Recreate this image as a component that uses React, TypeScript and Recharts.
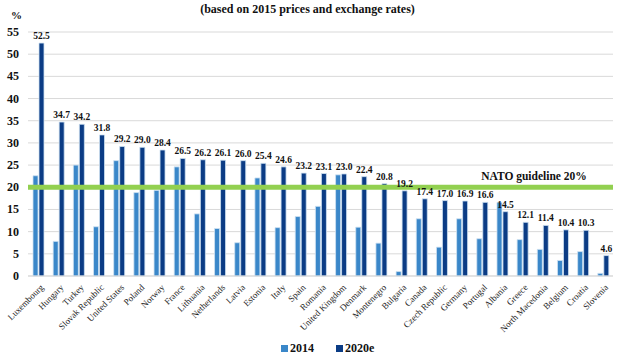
import { BarChart, Bar, XAxis, YAxis, CartesianGrid, ReferenceLine, LabelList, Legend } from 'recharts'

const countries = [
  'Luxembourg', 'Hungary', 'Turkey', 'Slovak Republic', 'United States', 'Poland', 'Norway', 'France',
  'Lithuania', 'Netherlands', 'Latvia', 'Estonia', 'Italy', 'Spain', 'Romania', 'United Kingdom',
  'Denmark', 'Montenegro', 'Bulgaria', 'Canada', 'Czech Republic', 'Germany', 'Portugal', 'Albania',
  'Greece', 'North Macedonia', 'Belgium', 'Croatia', 'Slovenia',
]
const values2014 = [
  22.6, 7.8, 25.0, 11.1, 26.0, 18.8, 19.3, 24.6,
  14.0, 10.7, 7.5, 22.1, 10.9, 13.4, 15.7, 22.8,
  11.0, 7.4, 1.0, 12.9, 6.5, 12.9, 8.4, 16.6,
  8.2, 6.0, 3.5, 5.5, 0.6,
]
const values2020 = [
  52.5, 34.7, 34.2, 31.8, 29.2, 29.0, 28.4, 26.5,
  26.2, 26.1, 26.0, 25.4, 24.6, 23.2, 23.1, 23.0,
  22.4, 20.8, 19.2, 17.4, 17.0, 16.9, 16.6, 14.5,
  12.1, 11.4, 10.4, 10.3, 4.6,
]
const yTicks = [0, 5, 10, 15, 20, 25, 30, 35, 40, 45, 50, 55]
const guideline = 20

const data = countries.map((c, i) => ({ country: c, y2014: values2014[i], y2020: values2020[i] }))

const serif = 'Liberation Serif, DejaVu Serif, serif'
const c2014 = '#3a87c9'
const c2020 = '#0b3c85'

function XTick({ x, y, payload }: { x?: number; y?: number; payload?: { value: string } }) {
  const tx = (x ?? 0) + 6
  const ty = (y ?? 0) + 4
  return (
    <text x={tx} y={ty} transform={`rotate(-45 ${tx} ${ty})`} textAnchor="end" fontSize={9} fontFamily={serif} fill="#222">
      {payload?.value}
    </text>
  )
}

function YTick({ x, y, payload }: { x?: number; y?: number; payload?: { value: number } }) {
  return (
    <text x={(x ?? 0) - 1} y={(y ?? 0) + 4} textAnchor="end" fontSize={12} fontWeight="bold" fontFamily={serif} fill="#111">
      {payload?.value}
    </text>
  )
}

function ValueLabel({ x, y, width, value }: { x?: number; y?: number; width?: number; value?: number }) {
  if (value == null) return null
  return (
    <text x={Number(x) + Number(width) / 2} y={Number(y) - 4} textAnchor="middle" fontSize={9.5} fontWeight="bold" fontFamily={serif} fill="#111">
      {Number(value).toFixed(1)}
    </text>
  )
}

function GuideLabel({ viewBox }: { viewBox?: { x: number; y: number; width: number } }) {
  if (!viewBox) return null
  return (
    <text x={viewBox.x + viewBox.width - 79} y={viewBox.y - 7} textAnchor="middle" fontSize={11.5} fontWeight="bold" fontFamily={serif} fill="#111">
      NATO guideline 20%
    </text>
  )
}

function LegendContent() {
  const item = (color: string, label: string) => (
    <span style={{ display: 'inline-flex', alignItems: 'center', marginRight: 22 }}>
      <span style={{ width: 7, height: 7, background: color, display: 'inline-block', marginRight: 2 }} />
      {label}
    </span>
  )
  return (
    <div style={{ fontFamily: serif, fontWeight: 'bold', fontSize: 12, color: '#111', paddingLeft: 281, paddingTop: 5, textAlign: 'left' }}>
      {item(c2014, '2014')}
      {item(c2020, '2020e')}
    </div>
  )
}

export default function App() {
  return (
    <div style={{ position: 'absolute', left: 0, top: 0, width: 623, height: 362, background: '#fff' }}>
      <div style={{ position: 'absolute', left: 0, width: 623, top: 2, textAlign: 'center', fontFamily: serif, fontWeight: 'bold', fontSize: 12, color: '#111' }}>
        <span style={{ position: 'relative', left: -4 }}>(based on 2015 prices and exchange rates)</span>
      </div>
      <div style={{ position: 'absolute', left: 11, top: 9, fontFamily: serif, fontWeight: 'bold', fontSize: 11, color: '#111' }}>%</div>
      <BarChart
        width={623}
        height={362}
        data={data}
        margin={{ top: 32, right: 10, bottom: 2, left: 0 }}
        barGap={1}
        barSize={5}
      >
        <CartesianGrid vertical={false} stroke="#d9d9d9" />
        <XAxis
          dataKey="country"
          interval={0}
          tickLine={false}
          axisLine={{ stroke: '#d9d9d9' }}
          height={60}
          tick={<XTick />}
        />
        <YAxis
          domain={[0, 55]}
          ticks={yTicks}
          width={28}
          axisLine={false}
          tickLine={false}
          interval={0}
          tick={<YTick />}
        />
        <Legend verticalAlign="bottom" height={24} content={<LegendContent />} />
        <Bar dataKey="y2014" name="2014" fill={c2014} stroke="#cfe2f3" strokeWidth={0.8} isAnimationActive={false} />
        <Bar dataKey="y2020" name="2020e" fill={c2020} stroke="#cfe2f3" strokeWidth={0.8} isAnimationActive={false}>
          <LabelList dataKey="y2020" content={<ValueLabel />} />
        </Bar>
        <ReferenceLine y={guideline} stroke="#92d050" strokeWidth={5} label={<GuideLabel />} />
      </BarChart>
    </div>
  )
}
